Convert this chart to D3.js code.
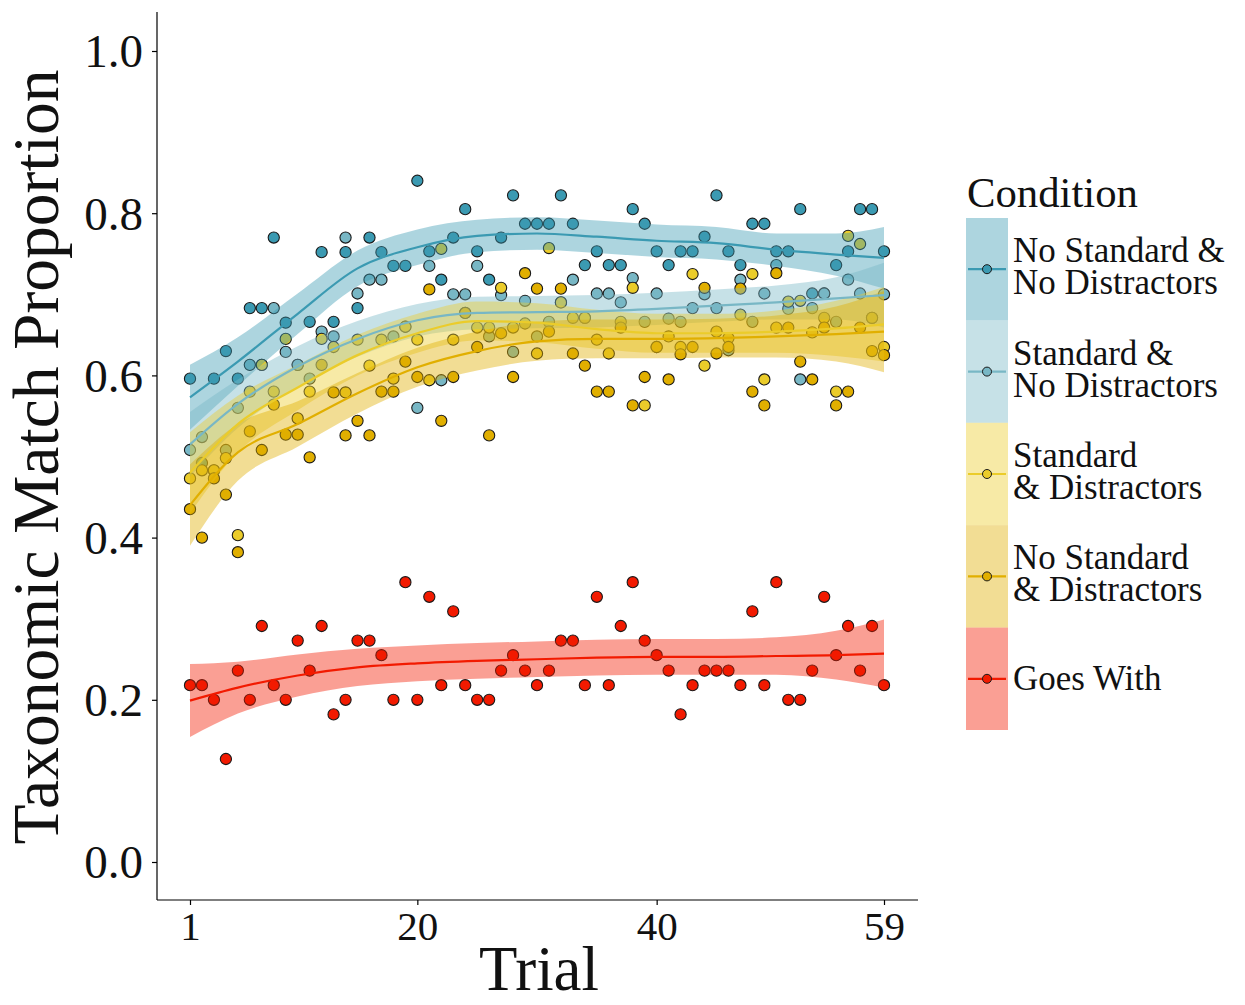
<!DOCTYPE html>
<html><head><meta charset="utf-8">
<script src="https://cdn.jsdelivr.net/npm/d3@7"></script>
<style>
html,body{margin:0;padding:0;background:#fff;}
svg{display:block;}
text{font-family:"Liberation Serif","DejaVu Serif",serif;fill:#111;}
</style></head>
<body><svg id="c" width="1245" height="1005"></svg>
<script>
// ---------- data ----------
const conditions = ["No Standard & No Distractors","Standard & No Distractors","Standard & Distractors","No Standard & Distractors","Goes With"];
const legendLines = [["No Standard &","No Distractors"],["Standard &","No Distractors"],["Standard","& Distractors"],["No Standard","& Distractors"],["Goes With"]];
const colors = ["#3B9AB2","#78B7C5","#EBCC2A","#E1AF00","#F21A00"];
const trials = [1,2,3,4,5,6,7,8,9,10,11,12,13,14,15,16,17,18,19,20,21,22,23,24,25,26,27,28,29,30,31,32,33,34,35,36,37,38,39,40,41,42,43,44,45,46,47,48,49,50,51,52,53,54,55,56,57,58,59];
const xTicks = [1,20,40,59];
const yTicks = [0,0.2,0.4,0.6,0.8,1.0];

const noStdNoDis = [.596,.492,.596,.630,.596,.683,.683,.770,.665,.613,.666,.752,.666,.752,.683,.770,.752,.735,.735,.840,.753,.718,.770,.805,.753,.718,.770,.822,.787,.787,.787,.822,.787,.736,.753,.736,.736,.805,.787,.753,.736,.753,.753,.771,.822,.753,.736,.787,.787,.753,.753,.805,.701,.701,.736,.753,.805,.805,.753];
const stdNoDis = [.508,.524,.483,.508,.560,.613,.613,.683,.629,.613,.596,.654,.648,.770,.701,.718,.718,.648,.660,.560,.735,.594,.700,.700,.735,.648,.699,.629,.692,.648,.666,.690,.718,.671,.701,.701,.690,.720,.666,.701,.670,.666,.683,.700,.683,.631,.718,.666,.701,.736,.682,.595,.683,.701,.666,.718,.701,.671,.700];
const stdDis = [.473,.483,.483,.498,.403,.580,.613,.580,.645,.547,.580,.645,.635,.579,.644,.612,.644,.596,.660,.644,.594,.756,.644,.677,.659,.659,.708,.659,.664,.627,.757,.690,.671,.671,.644,.627,.666,.708,.563,.635,.648,.635,.725,.612,.654,.646,.675,.725,.595,.659,.691,.692,.653,.671,.580,.772,.762,.671,.635];
const noStdDis = [.435,.400,.473,.453,.382,.531,.508,.564,.527,.527,.499,.613,.579,.526,.544,.526,.580,.580,.617,.598,.706,.544,.598,.677,.635,.526,.652,.598,.726,.707,.654,.707,.627,.612,.580,.580,.659,.563,.598,.635,.595,.626,.635,.708,.627,.635,.707,.580,.563,.726,.659,.617,.595,.659,.563,.580,.659,.630,.625];
const goesWith = [.218,.218,.200,.127,.236,.200,.291,.218,.200,.273,.236,.291,.182,.200,.273,.273,.255,.200,.345,.200,.327,.218,.309,.218,.200,.200,.236,.255,.236,.218,.236,.273,.273,.218,.327,.218,.291,.345,.273,.255,.236,.182,.218,.236,.236,.236,.218,.309,.218,.345,.200,.200,.236,.327,.255,.291,.236,.291,.218];

// smoothed fits and half-widths of confidence bands
const fitTrials = [1,5,10,15,20,25,30,35,40,45,50,55,59];
const fitNoStdNoDis = [.573,.617,.676,.732,.758,.772,.775,.771,.766,.763,.755,.749,.745];
const seNoStdNoDis  = [.040,.030,.025,.022,.022,.020,.020,.020,.020,.020,.020,.026,.038];
const fitStdNoDis   = [.515,.565,.611,.645,.668,.677,.678,.679,.682,.686,.690,.695,.699];
const seStdNoDis    = [.040,.030,.025,.022,.020,.020,.020,.020,.020,.020,.021,.026,.040];
const fitStdDis     = [.480,.540,.585,.625,.652,.667,.665,.657,.652,.652,.654,.658,.663];
const seStdDis      = [.050,.035,.028,.025,.024,.024,.024,.024,.024,.024,.026,.034,.046];
const fitNoStdDis   = [.440,.505,.540,.578,.610,.630,.642,.645,.645,.646,.648,.651,.654];
const seNoStdDis    = [.050,.035,.028,.025,.024,.024,.024,.024,.024,.024,.026,.034,.050];
const fitGoesWith   = [.199,.215,.230,.240,.245,.248,.250,.252,.253,.253,.254,.255,.257];
const seGoesWith    = [.045,.032,.026,.023,.022,.022,.022,.022,.022,.022,.023,.030,.042];

const pointSeries = [noStdNoDis, stdNoDis, stdDis, noStdDis, goesWith];
const fitSeries = [fitNoStdNoDis, fitStdNoDis, fitStdDis, fitNoStdDis, fitGoesWith];
const seSeries = [seNoStdNoDis, seStdNoDis, seStdDis, seNoStdDis, seGoesWith];

// ---------- layout ----------
const svg = d3.select("#c");
const panel = {left:157, right:918, top:12, bottom:900};
const x = d3.scaleLinear().domain([1,59]).range([190,884]);
const y = d3.scaleLinear().domain([0,1]).range([862,51]);

// points
pointSeries.forEach((vals,i)=>{
  svg.append("g").selectAll("circle").data(trials).join("circle")
    .attr("cx",t=>x(t)).attr("cy",(t,j)=>y(vals[j])).attr("r",5.6)
    .attr("fill",colors[i]).attr("stroke","#1a1a1a").attr("stroke-width",1.1);
});

// ribbons
const area = d3.area().x(d=>x(d.t)).y0(d=>y(d.f-d.s)).y1(d=>y(d.f+d.s)).curve(d3.curveMonotoneX);
const line = d3.line().x(d=>x(d.t)).y(d=>y(d.f)).curve(d3.curveMonotoneX);
const fitData = fitSeries.map((f,i)=>fitTrials.map((t,j)=>({t:t,f:f[j],s:seSeries[i][j]})));
fitData.forEach((d,i)=>{
  svg.append("path").datum(d).attr("d",area).attr("fill",colors[i]).attr("fill-opacity",0.42).attr("stroke","none");
});
fitData.forEach((d,i)=>{
  svg.append("path").datum(d).attr("d",line).attr("fill","none").attr("stroke",colors[i]).attr("stroke-width",2.2);
});

// axes
svg.append("line").attr("x1",panel.left).attr("x2",panel.left).attr("y1",panel.top).attr("y2",panel.bottom).attr("stroke","#000").attr("stroke-width",1.2);
svg.append("line").attr("x1",panel.left).attr("x2",panel.right).attr("y1",panel.bottom).attr("y2",panel.bottom).attr("stroke","#000").attr("stroke-width",1.2);

const yAxis = svg.append("g").attr("transform",`translate(${panel.left},0)`)
  .call(d3.axisLeft(y).tickValues(yTicks).tickFormat(d3.format(".1f")).tickSize(5).tickPadding(9));
const xAxis = svg.append("g").attr("transform",`translate(0,${panel.bottom})`)
  .call(d3.axisBottom(x).tickValues(xTicks).tickFormat(d3.format("d")).tickSize(5).tickPadding(6));
[yAxis,xAxis].forEach(a=>{
  a.select(".domain").remove();
  a.selectAll("line").attr("stroke","#000").attr("stroke-width",1.2);
  a.selectAll("text").style("font-family",'"Liberation Serif",serif').attr("fill","#111");
});
yAxis.selectAll("text").style("font-size","47px").attr("dy","0.34em");
xAxis.selectAll("text").style("font-size","41px").attr("dy","0.71em");

function fitWidth(sel, target){
  const w = sel.node().getComputedTextLength();
  const fs = parseFloat(sel.style("font-size"));
  sel.style("font-size", (fs*target/w)+"px");
}

// titles
const yt = svg.append("text").attr("transform","translate(58,457) rotate(-90)").attr("text-anchor","middle")
  .style("font-size","60px").text("Taxonomic Match Proportion");
fitWidth(yt,775);
const xt = svg.append("text").attr("x",539).attr("y",990).attr("text-anchor","middle").style("font-size","60px").text("Trial");
fitWidth(xt,120);

// legend
const lg = svg.append("g");
const ct = lg.append("text").attr("x",967).attr("y",207).style("font-size","40px").text("Condition");
fitWidth(ct,171);
const keyTop = 218, keyH = 102.4, keyX = 966, keyW = 42;
const labelTexts = [];
conditions.forEach((c,i)=>{
  const ky = keyTop + i*keyH;
  lg.append("rect").attr("x",keyX).attr("y",ky).attr("width",keyW).attr("height",keyH)
    .attr("fill",colors[i]).attr("fill-opacity",0.42);
  const cy = ky + keyH/2;
  lg.append("line").attr("x1",keyX+2).attr("x2",keyX+keyW-2).attr("y1",cy).attr("y2",cy).attr("stroke",colors[i]).attr("stroke-width",2.2);
  lg.append("circle").attr("cx",keyX+keyW/2).attr("cy",cy).attr("r",4.5).attr("fill",colors[i]).attr("stroke","#1a1a1a").attr("stroke-width",1);
  const lines = legendLines[i];
  const t = lg.append("text").attr("class","lt").style("font-size","34px");
  lines.forEach((s,k)=>{
    const base = lines.length===2 ? cy - 7 + k*32 : cy + 11;
    t.append("tspan").attr("x",1013).attr("y",base).text(s);
  });
  labelTexts.push(t);
});
// scale legend labels to match "No Distractors" width
const ref = lg.selectAll("tspan").filter(function(){return this.textContent==="No Distractors";}).node();
const sc = 205/ref.getComputedTextLength();
lg.selectAll(".lt").style("font-size",(34*sc)+"px");
</script></body></html>
